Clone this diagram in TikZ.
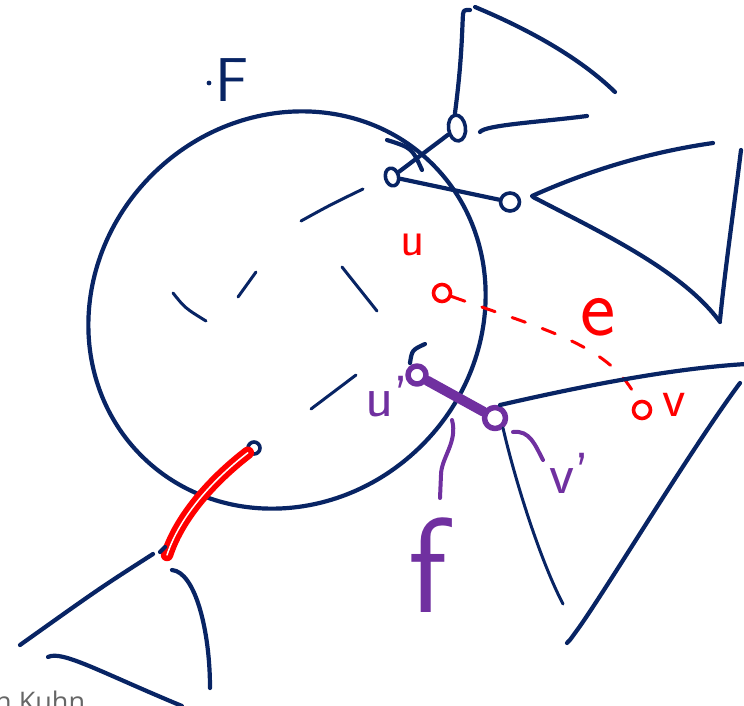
\documentclass[tikz,border=0pt]{standalone}
\usepackage{fontspec}
\newfontfamily\footfont{Open Sans}
\usetikzlibrary{shapes.geometric, calc}
\definecolor{inkblue}{RGB}{8,36,100}
\definecolor{inkred}{RGB}{255,0,0}
\definecolor{inkpurple}{RGB}{112,48,160}

\begin{document}
\begin{tikzpicture}[x=1pt, y=-1pt, line cap=round, line join=round,
      stroke/.style={draw=inkblue, line width=4.2pt},
      fine/.style={draw=inkblue, line width=3pt},
      vtx/.style={ellipse, draw=inkblue, line width=3.6pt, inner sep=0pt, minimum size=14pt},
      redvtx/.style={ellipse, draw=inkred, line width=3.6pt, inner sep=0pt, minimum size=17pt},
      purvtx/.style={ellipse, draw=inkpurple, line width=5.5pt, inner sep=0pt, minimum size=18pt},
      lbl/.style={inner sep=0pt, font=\sffamily\fontsize{#1}{#1}\selectfont}]
      \useasboundingbox (0,0) rectangle (744,705);

      \draw[stroke, rotate around={45:(287,310)}] (287,310) ellipse [x radius=206pt, y radius=191pt];
      \draw[stroke] (387,140) .. controls (412,148) .. (422,170);

      \node[vtx, minimum width=17pt, minimum height=26pt, rotate=8] (a) at (457,128) {};
      \node[vtx, minimum width=13pt, minimum height=18pt, rotate=15] (b) at (392,177) {};
      \node[vtx, minimum width=19pt, minimum height=18pt] (c) at (510,202) {};
      \node[vtx, minimum size=12pt] (d) at (254,448) {};
      \node[redvtx] (u) at (442,293) {};
      \node[redvtx] (v) at (642,410) {};
      \node[purvtx] (u1) at (417,375) {};
      \node[purvtx, minimum size=21pt] (v1) at (495,418) {};
      \coordinate (x) at (167,555);

      \draw[stroke] (b) -- (a);
      \draw[stroke] (b) -- (c);
      \draw[draw=inkred, line width=3pt, dash pattern=on 14pt off 18pt]
        (u) .. controls (545,330) and (612,345) .. (v);
      \draw[draw=inkpurple, line width=10pt] (u1) -- (v1);
      \draw[draw=inkred, line width=5.5pt, double=white, double distance=1.5pt]
        (d) .. controls (215,478) and (180,515) .. (x);

      \draw[stroke] (a.north) .. controls (462,60) and (462,30) .. (463,14)
        .. controls (464,10) .. (470,10);
      \draw[stroke] (475,7) .. controls (530,30) and (580,58) .. (615,92);
      \draw[stroke] (480,132) .. controls (485,125) and (540,122) .. (587,116);

      \draw[stroke] (532,196) .. controls (590,170) and (650,152) .. (713,143);
      \draw[stroke] (533,197) .. controls (600,232) and (682,270) .. (720,322);
      \draw[stroke] (741,150) .. controls (733,215) and (725,270) .. (720,320);

      \draw[stroke] (500,405) .. controls (600,382) and (680,368) .. (746,364);
      \draw[fine] (503,428) .. controls (515,480) and (540,560) .. (563,604);
      \draw[stroke] (740,383) .. controls (690,450) and (600,600) .. (575,633)
        .. controls (570,640) .. (567,643);

      \draw[stroke] (160,552) -- (165,547);
      \draw[stroke] (153,554) .. controls (100,588) .. (20,645);
      \draw[stroke] (172,570) .. controls (195,572) and (210,630) .. (210,688);
      \draw[stroke] (48,657) .. controls (62,650) and (100,672) .. (182,706);

      \draw[fine] (301,221) .. controls (330,205) .. (363,189);
      \draw[fine] (238,297) -- (256,272);
      \draw[fine] (173,293) .. controls (185,308) .. (206,321);
      \draw[fine] (342,267) -- (377,311);
      \draw[fine] (311,409) -- (356,375);
      \draw[stroke] (410,363) .. controls (412,350) .. (425,344);

      \draw[draw=inkpurple, line width=4pt] (452,420) .. controls (458,442) and (441,458)
        .. (441,475) -- (440,498);
      \draw[draw=inkpurple, line width=4pt] (513,432) .. controls (530,430) and (535,445) .. (543,460);

      \node[lbl=62, text=inkblue] (tf) at (232,80) {F};
      \fill[inkblue] (209,83) circle (2.4pt);
      \node[lbl=50, text=inkred] (tu) at (413,245) {u};
      \node[lbl=84, text=inkred] (te) at (598,317) {e};
      \node[lbl=54, text=inkred] (tv) at (674,405) {v};
      \node[lbl=58, text=inkpurple] (tu1) at (387,397) {u'};
      \node[lbl=58, text=inkpurple] (tv1) at (570,473) {v'};
      \node[lbl=135, text=inkpurple] (tf1) at (428,565) {f};
      \node[anchor=base west, inner sep=0pt, text=black!60,
        font=\footfont\fontsize{27}{27}\selectfont] (foot) at (-5,711) {n Kuhn};
    \end{tikzpicture}
\end{document}
